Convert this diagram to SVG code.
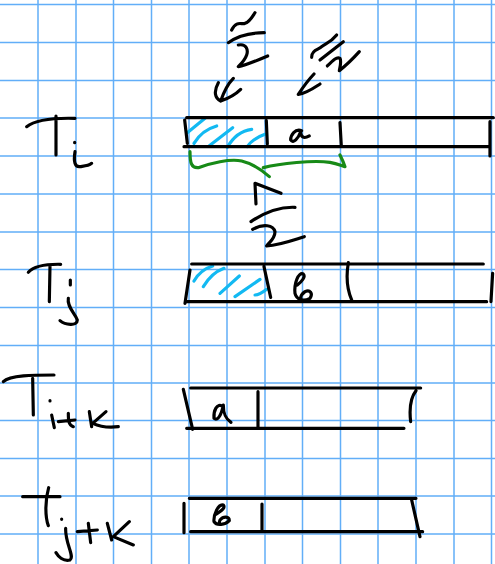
<svg xmlns="http://www.w3.org/2000/svg" width="495" height="564" viewBox="0 0 495 564">
<style>
.g{fill:none;stroke:#62aef8;stroke-width:1.5}
.k,.b,.n{fill:none;stroke-linecap:round;stroke-linejoin:round;stroke-width:9.5}
.k{stroke:#000}.b{stroke:#12b9f2}.n{stroke:#178a17}
</style>
<rect width="495" height="564" fill="#fff"/>
<path class="g" d="M38 0V564M76 0V564M113.500 0V564M151.500 0V564M189 0V564M227 0V564M265 0V564M302.500 0V564M340.500 0V564M378 0V564M416 0V564M454 0V564M491.500 0V564M0 4.500H495M0 42.500H495M0 80.500H495M0 118H495M0 156H495M0 194H495M0 232H495M0 269.500H495M0 307.500H495M0 345.500H495M0 383H495M0 420.500H495M0 458.500H495M0 496H495M0 534H495"/>
<g transform="translate(170 0) scale(.3333)">
<path class="b" d="M50 400L105 355M72 430C90 400 115 385 140 378M118 437L188 383M172 442C190 410 215 392 245 388M232 440C245 420 265 410 285 403"/>
<path class="n" d="M60 455C60 490 65 505 85 503C120 490 180 475 215 483C245 490 275 510 298 530M280 503C330 490 430 480 480 487C500 490 510 495 525 500C520 485 515 475 510 465"/>
<path class="k" d="M185 90C200 60 215 75 225 70C240 65 250 45 255 38M175 128C200 110 240 98 283 98M205 135C230 130 235 150 230 165C225 180 210 195 205 200C230 195 265 180 293 168"/>
<path class="k" d="M190 235C170 255 160 280 152 303C175 295 195 285 212 268M145 248C130 275 135 295 152 303M432 222C415 240 400 260 385 283C410 280 430 265 450 252"/>
<path class="k" d="M425 172C425 150 445 150 455 140C465 130 480 130 500 105M450 180L520 125M472 198C490 180 500 170 510 175C515 185 510 200 508 212C530 195 550 175 568 155"/>
<path class="k" d="M50 353H970M42 440H960M44 360L52 430M289 362L292 432M510 368L514 438M960 365V468"/>
<path class="k" d="M395 392C375 385 362 405 362 420C370 432 385 415 392 395C392 410 400 418 418 408"/>
<path class="k" d="M258 612L255 550L333 580M243 665C280 640 330 620 375 622M248 688C280 670 310 675 315 695C315 715 300 725 290 738C330 735 370 720 403 710"/>
</g>
<g transform="translate(0 90) scale(.3333)">
<path class="k" d="M80 110C105 90 150 83 225 85M168 78V195M224 157V158M225 185C220 215 225 232 240 230C255 228 265 228 275 220"/>
<path class="k" d="M85 547C100 530 130 522 182 523M150 528L148 635M211 570V585M205 625C200 650 225 670 232 690C232 710 195 705 180 692"/>
</g>
<g transform="translate(0 360) scale(.3333)">
<path class="k" d="M10 65C30 45 100 45 162 45M98 55L100 165M150 122V123M155 165L163 203M175 185L225 180M205 160C205 180 205 195 220 200M268 155L275 200M318 155L278 190C300 200 330 203 355 200"/>
<path class="k" d="M68 410H180M146 383C135 420 135 470 145 497M185 477V478M197 505C195 550 225 590 210 600C190 605 175 590 168 578M232 515L292 510M265 490L272 548M322 490L335 540M388 485L340 530L400 555"/>
</g>
<g transform="translate(170 250) scale(.3333)">
<path class="b" d="M72 93C85 70 105 55 128 48M100 110C115 85 135 65 162 55M150 130L208 78M195 140L270 88M255 135C265 135 275 130 290 118"/>
<path class="k" d="M65 42H940M50 155H950M60 60L45 160M282 50L302 142M535 38C528 80 532 120 545 150M968 70L963 155"/>
<path class="k" d="M382 105C395 95 408 80 400 72C385 65 372 100 375 130C380 150 400 155 420 145C430 130 420 118 405 125C398 130 392 138 392 145"/>
<path class="k" d="M62 414H752M50 535H702M40 418L68 538M264 425V530M738 422C720 445 718 480 722 515"/>
<path class="k" d="M160 470C140 455 130 485 132 505C145 515 155 490 160 465C160 490 165 505 183 517"/>
<path class="k" d="M58 745H738M62 845H758M42 760V848M276 762V840M725 750L750 860"/>
<path class="k" d="M135 795C150 785 168 775 160 765C145 760 130 795 132 815C140 828 165 825 178 812C178 798 160 798 150 810C148 815 148 820 150 822"/>
</g>
</svg>
